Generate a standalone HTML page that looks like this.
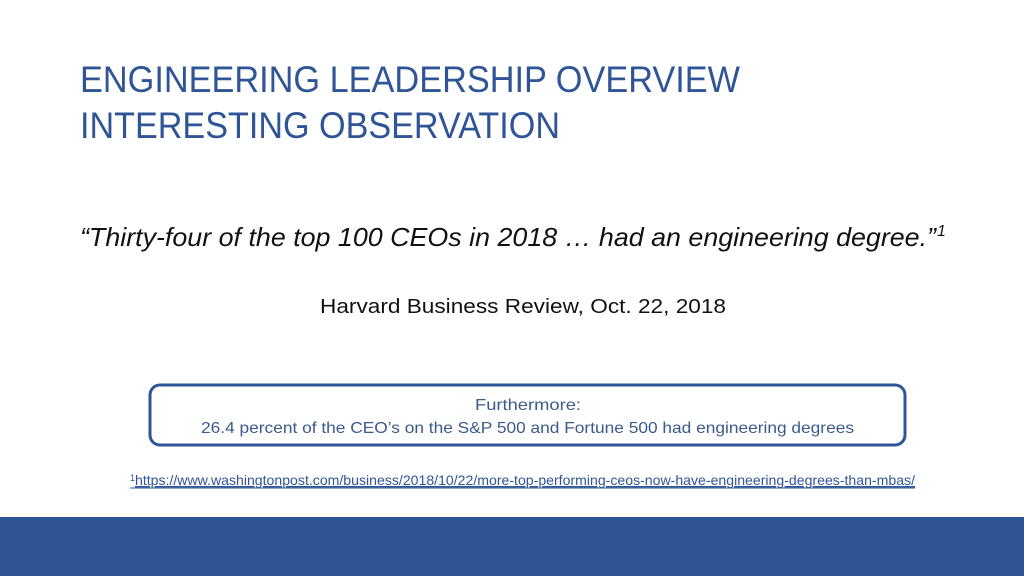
<!DOCTYPE html>
<html><head><meta charset="utf-8"><style>
html,body{margin:0;padding:0;background:#fff;}
svg{display:block;font-family:"Liberation Sans",sans-serif;}
</style></head><body>
<svg width="1024" height="576" viewBox="0 0 1024 576">
<rect x="0" y="0" width="1024" height="576" fill="#ffffff"/>
<text x="80" y="92" font-size="37" fill="#2f5597" textLength="660" lengthAdjust="spacingAndGlyphs">ENGINEERING LEADERSHIP OVERVIEW</text>
<text x="80" y="138" font-size="37" fill="#2f5597" textLength="480" lengthAdjust="spacingAndGlyphs">INTERESTING OBSERVATION</text>
<text x="80" y="246" font-size="26" font-style="italic" fill="#111" textLength="856" lengthAdjust="spacingAndGlyphs">“Thirty-four of the top 100 CEOs in 2018 … had an engineering degree.”</text>
<text x="937" y="236" font-size="16" font-style="italic" fill="#111">1</text>
<text x="320" y="313" font-size="20" fill="#111" textLength="406" lengthAdjust="spacingAndGlyphs">Harvard Business Review, Oct. 22, 2018</text>
<rect x="150" y="385" width="755" height="60" rx="10" ry="10" fill="#fff" stroke="#2f5597" stroke-width="3"/>
<text x="528" y="410" font-size="16" fill="#3b5a8c" text-anchor="middle" textLength="106" lengthAdjust="spacingAndGlyphs">Furthermore:</text>
<text x="201" y="433" font-size="16" fill="#3b5a8c" textLength="653" lengthAdjust="spacingAndGlyphs">26.4 percent of the CEO’s on the S&amp;P 500 and Fortune 500 had engineering degrees</text>
<text x="130" y="481" font-size="9" fill="#2f5597">1</text>
<text x="135" y="485" font-size="14" fill="#2f5597" textLength="780" lengthAdjust="spacingAndGlyphs" text-decoration="underline">https://www.washingtonpost.com/business/2018/10/22/more-top-performing-ceos-now-have-engineering-degrees-than-mbas/</text>
<line x1="130" y1="488" x2="915" y2="488" stroke="#2f5597" stroke-width="1"/>
<rect x="0" y="517" width="1024" height="59" fill="#2f5597"/>
</svg>
</body></html>
